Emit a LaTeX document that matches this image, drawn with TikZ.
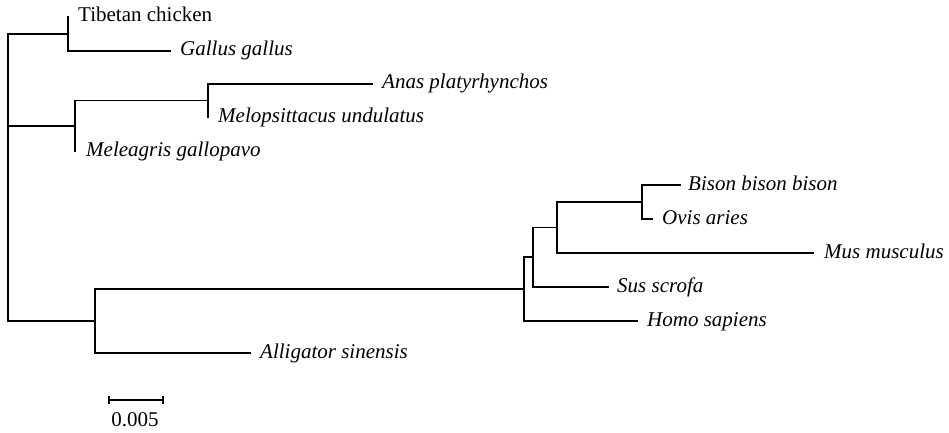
\documentclass[tikz,border=0pt]{standalone}
\usepackage{fontspec}
\setmainfont{Liberation Serif}
\begin{document}
\begin{tikzpicture}[x=1pt,y=-1pt,
  branch/.style={line width=1.6pt,line cap=rect},
  taxon/.style={anchor=base west,inner sep=0pt,font=\fontsize{21}{21}\selectfont\itshape},
  taxonup/.style={taxon,font=\fontsize{21}{21}\selectfont\upshape},
  barlabel/.style={anchor=base,inner sep=0pt,font=\fontsize{21}{21}\selectfont}]
\useasboundingbox (0,0) rectangle (949,433);

% internal nodes (x = depth, y = midpoint of children)
\coordinate (root) at (8,177.5);
\coordinate (nA) at (68,34);
\coordinate (nB) at (75,126);
\coordinate (nC) at (208,100.5);
\coordinate (nD) at (95,321);
\coordinate (nE) at (524,289);
\coordinate (nF) at (533,257);
\coordinate (nG) at (557,227.5);
\coordinate (nH) at (642,202);

% branch tips
\coordinate (tTib) at (68,17);
\coordinate (tGal) at (170,51);
\coordinate (tAna) at (372,84);
\coordinate (tMel) at (208,117);
\coordinate (tMea) at (75,151);
\coordinate (tAll) at (250,353);
\coordinate (tHom) at (637,321);
\coordinate (tSus) at (608,287);
\coordinate (tMus) at (813,253);
\coordinate (tBis) at (680,185);
\coordinate (tOvi) at (652,219);

% taxon labels
\node[taxonup] (Tib) at ([xshift=10pt,yshift=-5pt]tTib) {Tibetan chicken};
\node[taxon] (Gal) at ([xshift=10pt,yshift=-5pt]tGal) {Gallus gallus};
\node[taxon] (Ana) at ([xshift=10pt,yshift=-5pt]tAna) {Anas platyrhynchos};
\node[taxon] (Mel) at ([xshift=10pt,yshift=-5pt]tMel) {Melopsittacus undulatus};
\node[taxon] (Mea) at ([xshift=11pt,yshift=-5pt]tMea) {Meleagris gallopavo};
\node[taxon] (All) at ([xshift=10pt,yshift=-5pt]tAll) {Alligator sinensis};
\node[taxon] (Hom) at ([xshift=10pt,yshift=-5pt]tHom) {Homo sapiens};
\node[taxon] (Sus) at ([xshift=9pt,yshift=-5pt]tSus) {Sus scrofa};
\node[taxon] (Mus) at ([xshift=11pt,yshift=-5pt]tMus) {Mus musculus};
\node[taxon] (Bis) at ([xshift=8pt,yshift=-5pt]tBis) {Bison bison bison};
\node[taxon] (Ovi) at ([xshift=10pt,yshift=-5pt]tOvi) {Ovis aries};

% branches
\draw[branch] (root) |- (nA);
\draw[branch] (root) |- (nB);
\draw[branch] (root) |- (nD);
\draw[branch] (nA) |- (tTib);
\draw[branch] (nA) |- (tGal);
\draw[branch] (nB) |- (nC);
\draw[branch] (nB) |- (tMea);
\draw[branch] (nC) |- (tAna);
\draw[branch] (nC) |- (tMel);
\draw[branch] (nD) |- (nE);
\draw[branch] (nD) |- (tAll);
\draw[branch] (nE) |- (nF);
\draw[branch] (nE) |- (tHom);
\draw[branch] (nF) |- (nG);
\draw[branch] (nF) |- (tSus);
\draw[branch] (nG) |- (nH);
\draw[branch] (nG) |- (tMus);
\draw[branch] (nH) |- (tBis);
\draw[branch] (nH) |- (tOvi);

% scale bar
\coordinate (sL) at (109,400);
\coordinate (sR) at (163,400);
\draw[line width=1.6pt] (sL) -- (sR);
\draw[line width=1.6pt] ([yshift=4pt]sL) -- ([yshift=-4pt]sL);
\draw[line width=1.6pt] ([yshift=4pt]sR) -- ([yshift=-4pt]sR);
\node[barlabel] (sLab) at (135,426.5) {0.005};
\end{tikzpicture}
\end{document}
